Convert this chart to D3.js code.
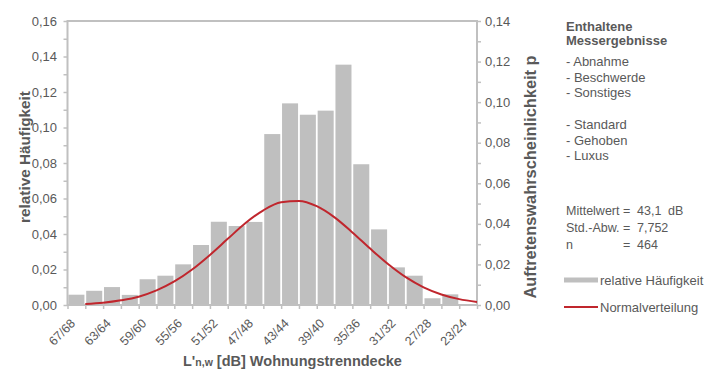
<!DOCTYPE html>
<html>
<head>
<meta charset="utf-8">
<script src="https://cdn.jsdelivr.net/npm/d3@7"></script>
<style>
  body { margin: 0; background: #fff; }
  text { font-family: "Liberation Sans", Arial, sans-serif; fill: #595959; }
</style>
</head>
<body>
<svg id="chart" width="716" height="369"></svg>
<script>
// Klassen (dB-Paare), von laut nach leise
const categories = ['67/68','65/66','63/64','61/62','59/60','57/58','55/56','53/54','51/52','49/50','47/48','45/46',
    '43/44','41/42','39/40','37/38','35/36','33/34','31/32','29/30','27/28','25/26','23/24'];
const tickLabels = ['67/68','63/64','59/60','55/56','51/52','47/48','43/44','39/40','35/36','31/32','27/28','23/24'];

// relative Häufigkeit je Klasse
const relFreq = [0.0058, 0.0080, 0.0101, 0.0057, 0.0145, 0.0165, 0.0229, 0.0338, 0.0469, 0.0445, 0.0468, 0.0963,
    0.1136, 0.1072, 0.1095, 0.1354, 0.0793, 0.0426, 0.0212, 0.0165, 0.0038, 0.0060, 0];

// Normalverteilung, Punkte an den Klassengrenzen
const curveDb = [66.5, 64.5, 62.5, 60.5, 58.5, 56.5, 54.5, 52.5, 50.5, 48.5, 46.5, 44.5,
    42.5, 40.5, 38.5, 36.5, 34.5, 32.5, 30.5, 28.5, 26.5, 24.5, 22.5];
const curveP = [0.0005, 0.0011, 0.0023, 0.0041, 0.0072, 0.0116, 0.0175, 0.0247, 0.0326, 0.0404, 0.0467, 0.0506,
    0.0513, 0.0487, 0.0432, 0.0358, 0.0278, 0.0202, 0.0137, 0.0087, 0.0052, 0.0029, 0.0015];

const leftTicks = [0, 0.02, 0.04, 0.06, 0.08, 0.10, 0.12, 0.14, 0.16];
const rightTicks = [0, 0.02, 0.04, 0.06, 0.08, 0.10, 0.12, 0.14];

const infoLines = ['- Abnahme', '- Beschwerde', '- Sonstiges', '', '- Standard', '- Gehoben', '- Luxus'];
const stats = [['Mittelwert', '43,1', 'dB'], ['Std.-Abw.', '7,752', ''], ['n', '464', '']];

const svg = d3.select('#chart');
const pLeft = 67.5, pRight = 477, pTop = 21, pBottom = 305;
const axisColor = '#c0c0c0';
const comma = d => d.toFixed(2).replace('.', ',');

const x = d3.scaleBand().domain(categories).range([pLeft, pRight]).paddingInner(0.1).paddingOuter(0.05);
const xDb = d3.scaleLinear().domain([68.5, 22.5]).range([pLeft, pRight]);
const yL = d3.scaleLinear().domain([0, 0.16]).range([pBottom, pTop]);
const yR = d3.scaleLinear().domain([0, 0.14]).range([pBottom, pTop]);

// bars
svg.append('g').selectAll('rect')
    .data(categories)
    .join('rect')
    .attr('x', d => x(d))
    .attr('width', x.bandwidth())
    .attr('y', (d, i) => yL(relFreq[i]))
    .attr('height', (d, i) => pBottom - yL(relFreq[i]))
    .style('fill', '#bfbfbf');

// frame
svg.append('rect')
    .attr('x', pLeft).attr('y', pTop)
    .attr('width', pRight - pLeft).attr('height', pBottom - pTop)
    .style('fill', 'none').style('stroke', axisColor).style('stroke-width', 2);

// axes (ticks only, labels separately)
const gL = svg.append('g').attr('transform', `translate(${pLeft},0)`)
    .call(d3.axisLeft(yL).tickValues(d3.range(0, 0.1601, 0.01)).tickSize(4).tickFormat(''));
const gR = svg.append('g').attr('transform', `translate(${pRight},0)`)
    .call(d3.axisRight(yR).tickValues(d3.range(0, 0.1401, 0.01)).tickSize(4).tickFormat(''));
const gB = svg.append('g').attr('transform', `translate(0,${pBottom})`)
    .call(d3.axisBottom(xDb).tickValues(d3.range(68.5, 22, -2)).tickSize(4).tickFormat(''));
[gL, gR, gB].forEach(g => {
    g.select('.domain').remove();
    g.selectAll('line').style('stroke', axisColor).style('stroke-width', 1.5);
});

svg.append('g').selectAll('text')
    .data(leftTicks)
    .join('text')
    .attr('x', 57).attr('y', d => yL(d)).attr('dy', '0.35em')
    .attr('text-anchor', 'end')
    .style('font-size', '13px')
    .text(comma);

svg.append('g').selectAll('text')
    .data(rightTicks)
    .join('text')
    .attr('x', 485).attr('y', d => yR(d)).attr('dy', '0.35em')
    .style('font-size', '13px')
    .text(comma);

svg.append('g').selectAll('text')
    .data(tickLabels)
    .join('text')
    .attr('transform', d => `translate(${x(d) + x.bandwidth() / 2 - 3.5},321) rotate(-45)`)
    .attr('dy', '0.35em')
    .attr('text-anchor', 'end')
    .style('font-size', '12.5px')
    .text(d => d);

// normal curve
svg.append('path')
    .datum(curveDb.map((d, i) => [d, curveP[i]]))
    .attr('d', d3.line().x(d => xDb(d[0])).y(d => yR(d[1])).curve(d3.curveMonotoneX))
    .style('fill', 'none')
    .style('stroke', '#c0262d')
    .style('stroke-width', 2);

// axis titles
svg.append('text')
    .attr('transform', 'translate(30,157) rotate(-90)')
    .attr('text-anchor', 'middle')
    .style('font-size', '15.3px').style('font-weight', 'bold')
    .text('relative Häufigkeit');

svg.append('text')
    .attr('transform', 'translate(536,177) rotate(-90)')
    .attr('text-anchor', 'middle')
    .style('font-size', '16.4px').style('font-weight', 'bold')
    .text('Auftretenswahrscheinlichkeit p');

const xt = svg.append('text')
    .attr('x', 183).attr('y', 366)
    .style('font-size', '14.5px').style('font-weight', 'bold');
xt.append('tspan').text("L'");
xt.append('tspan').style('font-size', '10.5px').text('n,w');
xt.append('tspan').text(' [dB] Wohnungstrenndecke');

// info block
svg.append('text').attr('x', 566).attr('y', 31)
    .style('font-size', '13px').style('font-weight', 'bold').text('Enthaltene');
svg.append('text').attr('x', 566).attr('y', 45)
    .style('font-size', '13px').style('font-weight', 'bold').text('Messergebnisse');

svg.append('g').selectAll('text')
    .data(infoLines)
    .join('text')
    .attr('x', 566).attr('y', (d, i) => 66 + i * 15.7)
    .style('font-size', '13px')
    .text(d => d);

const st = svg.append('g').selectAll('g')
    .data(stats)
    .join('g')
    .attr('transform', (d, i) => `translate(0,${215 + i * 17})`)
    .style('font-size', '12.5px');
st.append('text').attr('x', 566).text(d => d[0]);
st.append('text').attr('x', 623).text('=');
st.append('text').attr('x', 637).text(d => d[1]);
st.append('text').attr('x', 668).text(d => d[2]);

// legend
svg.append('rect').attr('x', 564).attr('y', 277.5).attr('width', 34).attr('height', 5)
    .style('fill', '#bfbfbf');
svg.append('text').attr('x', 600).attr('y', 280).attr('dy', '0.35em')
    .style('font-size', '13px').text('relative Häufigkeit');
svg.append('line').attr('x1', 564).attr('x2', 598).attr('y1', 307).attr('y2', 307)
    .style('stroke', '#c0262d').style('stroke-width', 2);
svg.append('text').attr('x', 600).attr('y', 307).attr('dy', '0.35em')
    .style('font-size', '13px').text('Normalverteilung');
</script>
</body>
</html>
